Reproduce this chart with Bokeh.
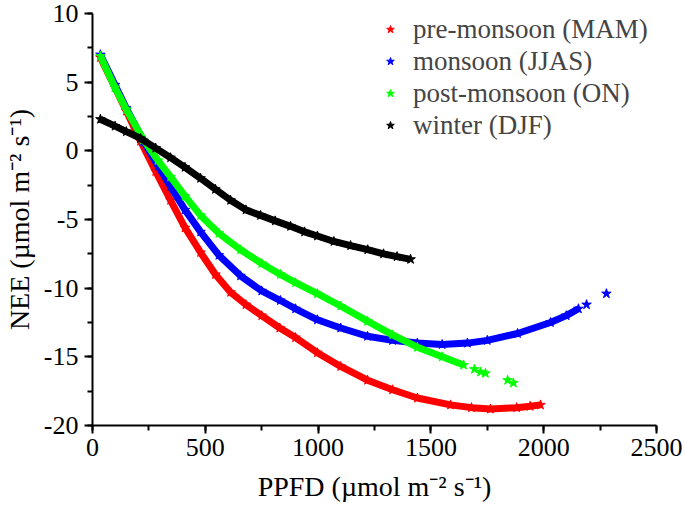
from bokeh.plotting import figure
from bokeh.models import SingleIntervalTicker, Legend, LegendItem, Range1d
from bokeh.embed import file_html
from bokeh.resources import INLINE

# ---- data ----
pre_x = [35, 100, 150, 213, 280, 346, 410, 479, 545, 612, 680, 750, 830, 900,
         997, 1100, 1219, 1330, 1440, 1587, 1680, 1764, 1880, 1940, 1986]
pre_y = [6.8, 4.6, 2.9, 0.7, -1.5, -3.6, -5.6, -7.4, -9.0, -10.3, -11.2, -12.0,
         -12.9, -13.6, -14.7, -15.7, -16.7, -17.4, -18.0, -18.5, -18.7, -18.8,
         -18.7, -18.6, -18.5]

mon_x = [35, 100, 150, 226, 290, 346, 410, 479, 560, 656, 750, 833, 900, 997,
         1100, 1219, 1330, 1440, 1550, 1662, 1750, 1884, 2030, 2100, 2154]
mon_y = [7.0, 4.8, 3.1, 0.7, -1.1, -2.6, -4.3, -5.9, -7.6, -9.1, -10.2, -10.9,
         -11.5, -12.3, -12.9, -13.5, -13.8, -14.0, -14.1, -14.0, -13.8, -13.3,
         -12.5, -12.0, -11.5]
mon_tail_x = [2190, 2278]
mon_tail_y = [-11.2, -10.4]

post_x = [35, 100, 150, 226, 290, 346, 410, 479, 560, 656, 750, 833, 900, 997,
          1100, 1219, 1330, 1440, 1550, 1645]
post_y = [6.9, 4.6, 3.0, 0.8, -0.7, -1.9, -3.3, -4.7, -6.0, -7.2, -8.2, -9.0,
          -9.6, -10.4, -11.3, -12.4, -13.4, -14.3, -15.0, -15.6]
post_tail_x = [1693, 1720, 1742, 1840, 1866]
post_tail_y = [-15.9, -16.1, -16.2, -16.7, -16.9]

win_x = [35, 100, 150, 213, 280, 346, 410, 479, 545, 612, 680, 745, 810, 878,
         940, 997, 1070, 1144, 1220, 1290, 1350, 1410]
win_y = [2.3, 1.8, 1.4, 0.9, 0.2, -0.5, -1.2, -2.0, -2.8, -3.6, -4.3, -4.7,
         -5.1, -5.5, -5.9, -6.2, -6.6, -6.9, -7.2, -7.5, -7.7, -7.9]

labels = ["pre-monsoon (MAM)", "monsoon (JJAS)", "post-monsoon (ON)", "winter (DJF)"]
colors = ["#ff0000", "#0000ff", "#00ff00", "#000000"]
x_ticks = [0, 500, 1000, 1500, 2000, 2500]
y_ticks = [-20, -15, -10, -5, 0, 5, 10]

FONT = "Liberation Serif"

p = figure(width=685, height=507, output_backend="svg", toolbar_location=None,
           x_range=Range1d(0, 2500), y_range=Range1d(-20, 10),
           min_border_left=92, min_border_right=29, min_border_top=13,
           min_border_bottom=82)
p.outline_line_color = None
p.grid.grid_line_color = None
p.background_fill_color = "white"
p.border_fill_color = "white"

series = [(pre_x, pre_y, [], []), (mon_x, mon_y, mon_tail_x, mon_tail_y),
          (post_x, post_y, post_tail_x, post_tail_y), (win_x, win_y, [], [])]
items = []
for (xs, ys, tx, ty), lab, col in zip(series, labels, colors):
    p.line(xs, ys, line_color=col, line_width=7)
    r = p.scatter(xs + tx, ys + ty, marker="star", size=10, fill_color=col,
                  line_color=col)
    items.append(LegendItem(label=lab, renderers=[r]))

legend = Legend(items=items, location=(288, 284), padding=0, margin=0,
                border_line_color=None, background_fill_alpha=0,
                label_text_font=FONT, label_text_font_size="27px",
                glyph_width=20, glyph_height=32, label_height=32,
                spacing=0, label_standoff=13)
p.add_layout(legend, "center")

p.xaxis.ticker = SingleIntervalTicker(interval=500, num_minor_ticks=2)
p.yaxis.ticker = SingleIntervalTicker(interval=5, num_minor_ticks=2)
p.xaxis.major_label_overrides = {t: str(t) for t in x_ticks}
p.yaxis.major_label_overrides = {t: str(t) for t in y_ticks}

for ax in (p.xaxis[0], p.yaxis[0]):
    ax.axis_line_width = 2
    ax.axis_line_color = "black"
    ax.major_tick_line_width = 2
    ax.minor_tick_line_width = 2
    ax.major_tick_out = 8
    ax.major_tick_in = 0
    ax.minor_tick_out = 5
    ax.minor_tick_in = 0
    ax.major_label_text_font = FONT
    ax.major_label_text_font_size = "26px"
    ax.major_label_text_color = "black"
    ax.axis_label_text_font = FONT
    ax.axis_label_text_font_size = "28px"
    ax.axis_label_text_font_style = "normal"
    ax.axis_label_text_color = "black"

p.xaxis.axis_label = "PPFD (µmol m⁻² s⁻¹)"
p.yaxis.axis_label = "NEE (µmol m⁻² s⁻¹)"
p.xaxis.major_label_standoff = 5
p.xaxis.axis_label_standoff = 12
p.yaxis.major_label_standoff = 6
p.yaxis.axis_label_standoff = 6

open("out.html", "w").write(file_html(p, INLINE))
